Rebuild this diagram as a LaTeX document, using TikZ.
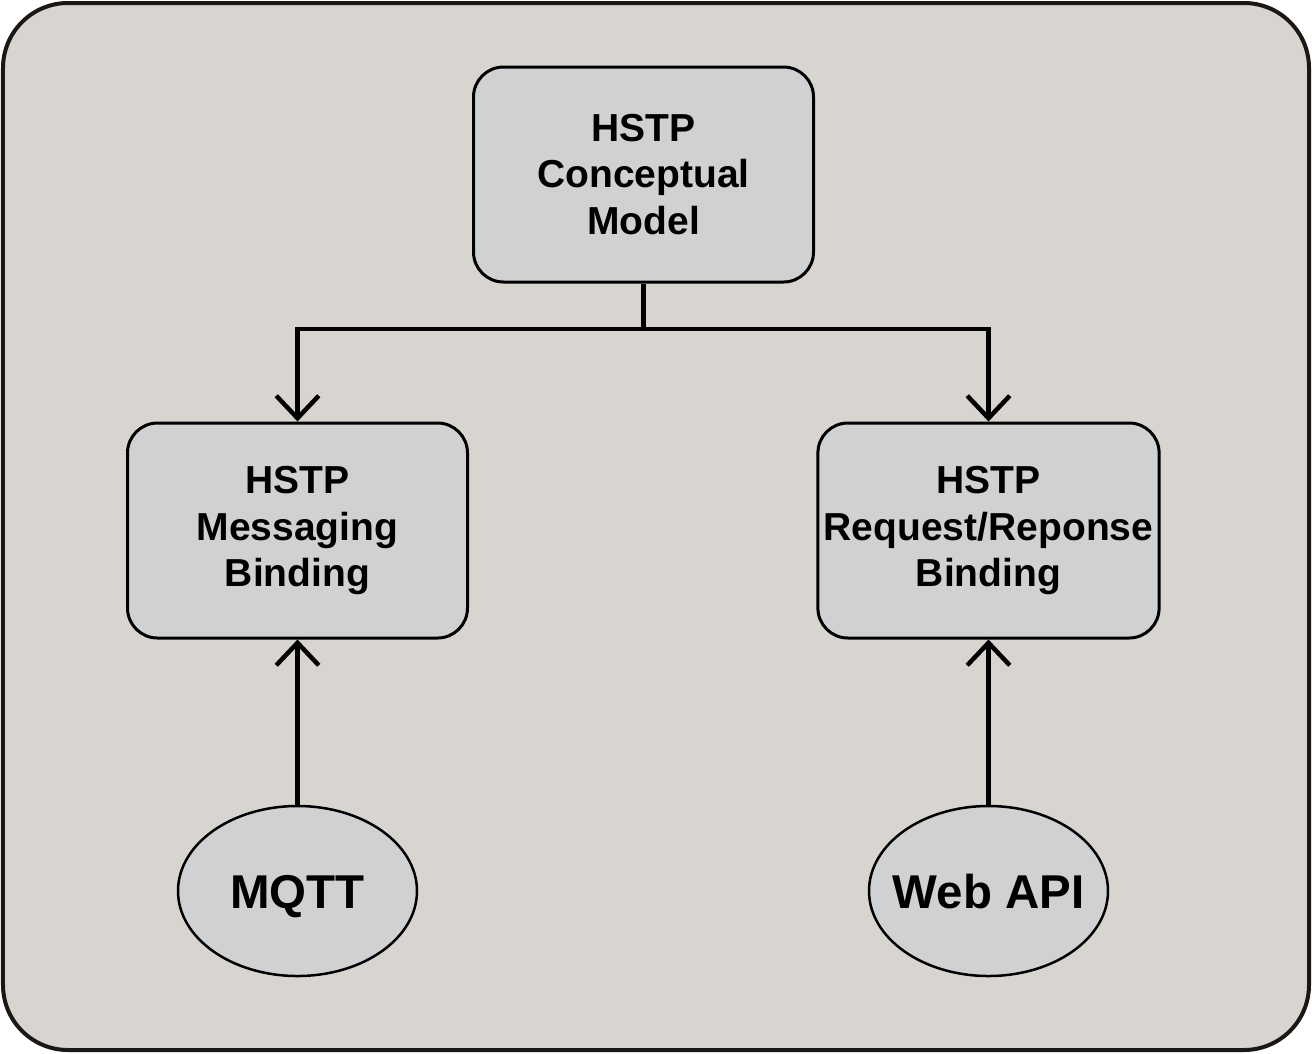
\documentclass[tikz,border=0pt]{standalone}
\usepackage{fontspec}
\setmainfont{Liberation Sans}
\usepackage{tikz}
\usetikzlibrary{positioning, arrows.meta, shapes.geometric}
\usepackage{xcolor}
\definecolor{panelgray}{RGB}{216,213,209}
\definecolor{boxgray}{RGB}{208,209,211}
\newcommand{\protoname}[1]{\makebox[0pt]{#1}}

\begin{document}
\begin{tikzpicture}[
    block/.style={draw, fill=boxgray, line width=0.06cm, rounded corners=0.6cm,
        minimum width=6.8cm, minimum height=4.3cm, align=center,
        font=\fontsize{22.2}{26.7}\selectfont\bfseries},
    proto/.style={draw, fill=boxgray, ellipse, line width=0.05cm, inner sep=0pt,
        minimum width=4.78cm, minimum height=3.4cm, text height=0.68cm, text depth=0pt,
        font=\fontsize{27}{30}\selectfont\bfseries},
    link/.style={line width=0.09cm},
    arr/.style={link, -{Straight Barb[length=0.45cm, width=0.85cm]}}]
    \useasboundingbox (0,0) rectangle (26.24,-21.06);
    % panel
    \draw[fill=panelgray, line width=0.08cm, rounded corners=1.3cm, draw={rgb,255:red,26;green,23;blue,20}]
        (0.06,-0.06) rectangle (26.18,-21.0);

    % model and bindings
    \node[block] (model) at (12.87,-3.49) {HSTP\\Conceptual\\Model};
    \node[block] (msg) at (5.95,-10.61) {HSTP\\Messaging\\Binding};
    \node[block] (reqrep) at (19.77,-10.61) {HSTP\\Request/Reponse\\Binding};

    % protocols
    \node[proto] (mqtt) at (5.95,-17.82) {\protoname{MQTT}};
    \node[proto] (webapi) at (19.77,-17.82) {\protoname{Web API}};

    % connectors
    \coordinate (split) at (12.87,-6.58);
    \draw[link] (model) -- (split);
    \draw[arr] (split) -| (msg);
    \draw[arr] (split) -| (reqrep);
    \draw[arr] (mqtt) -- (msg);
    \draw[arr] (webapi) -- (reqrep);
\end{tikzpicture}
\end{document}
